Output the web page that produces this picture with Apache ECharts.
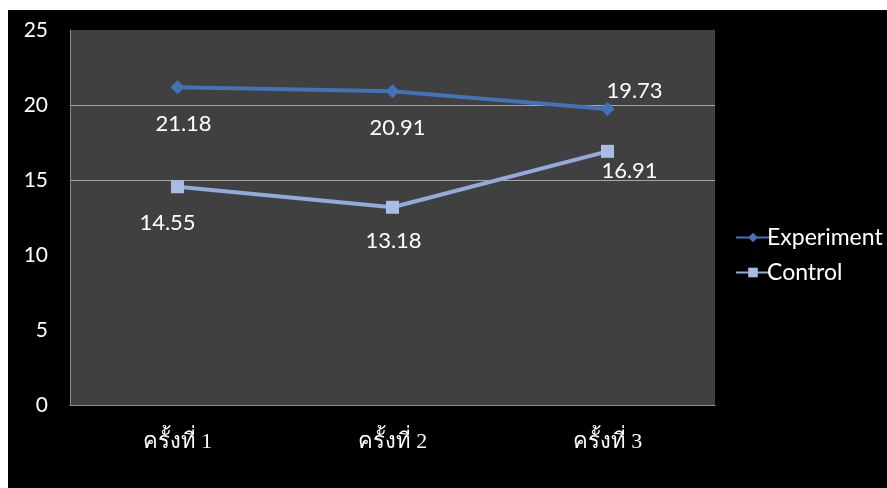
<!DOCTYPE html>
<html><head><meta charset="utf-8">
<script src="https://cdn.jsdelivr.net/npm/echarts@6/dist/echarts.min.js"></script>
<style>html,body{margin:0;padding:0;background:#fff;}#c{position:absolute;left:8px;top:10px;width:879px;height:478px;background:#000;}</style>
</head><body><div id="c"></div>
<script>
const categories = ['ครั้งที่ 1', 'ครั้งที่ 2', 'ครั้งที่ 3'];
const experiment = [21.18, 20.91, 19.73];
const control = [14.55, 13.18, 16.91];
const yTicks = [0, 5, 10, 15, 20, 25];

const chart = echarts.init(document.getElementById('c'));
const expOffsets = [[6, 37], [5, 37], [27, -18]];
const ctlOffsets = [[-10, 36], [1, 34], [22, 20]];
const lbl = {show: true, position: 'inside', color: '#fff', fontFamily: 'Lato', fontSize: 22};
chart.setOption({
  backgroundColor: '#000',
  animation: false,
  grid: {left: 62, top: 20, width: 645, height: 375, show: true, backgroundColor: '#404040', borderWidth: 0},
  legend: {
    orient: 'vertical', left: 722, top: 211, itemGap: 12, itemWidth: 34, itemHeight: 12,
    textStyle: {color: '#fff', fontFamily: 'Lato', fontSize: 23, padding: [0, 0, 0, -8]},
    data: ['Experiment', 'Control']
  },
  xAxis: {
    type: 'category', data: categories, boundaryGap: true,
    axisLine: {lineStyle: {color: '#8c8c8c', width: 1}},
    axisTick: {show: false},
    axisLabel: {color: '#fff', fontFamily: 'serif', fontSize: 22, margin: 26}
  },
  yAxis: {
    type: 'value', min: yTicks[0], max: yTicks[yTicks.length - 1], interval: 5,
    axisLine: {show: true, lineStyle: {color: '#8c8c8c'}},
    axisTick: {show: false},
    axisLabel: {color: '#fff', fontFamily: 'Lato', fontSize: 21, margin: 22},
    splitLine: {show: true, lineStyle: {color: ['rgba(0,0,0,0)', 'rgba(0,0,0,0)', 'rgba(0,0,0,0)', '#a6a6a6', '#a6a6a6', 'rgba(0,0,0,0)'], width: 1}}
  },
  series: [
    {
      name: 'Experiment', type: 'line', symbol: 'diamond', symbolSize: 14,
      lineStyle: {color: '#4272b8', width: 4},
      itemStyle: {color: '#4272b8'},
      data: experiment.map((v, i) => ({value: v, label: Object.assign({}, lbl, {offset: expOffsets[i]})}))
    },
    {
      name: 'Control', type: 'line', symbol: 'rect', symbolSize: 13,
      lineStyle: {color: '#93abdc', width: 4},
      itemStyle: {color: '#a7bde6'},
      data: control.map((v, i) => ({value: v, label: Object.assign({}, lbl, {offset: ctlOffsets[i]})}))
    }
  ]
});
</script></body></html>
